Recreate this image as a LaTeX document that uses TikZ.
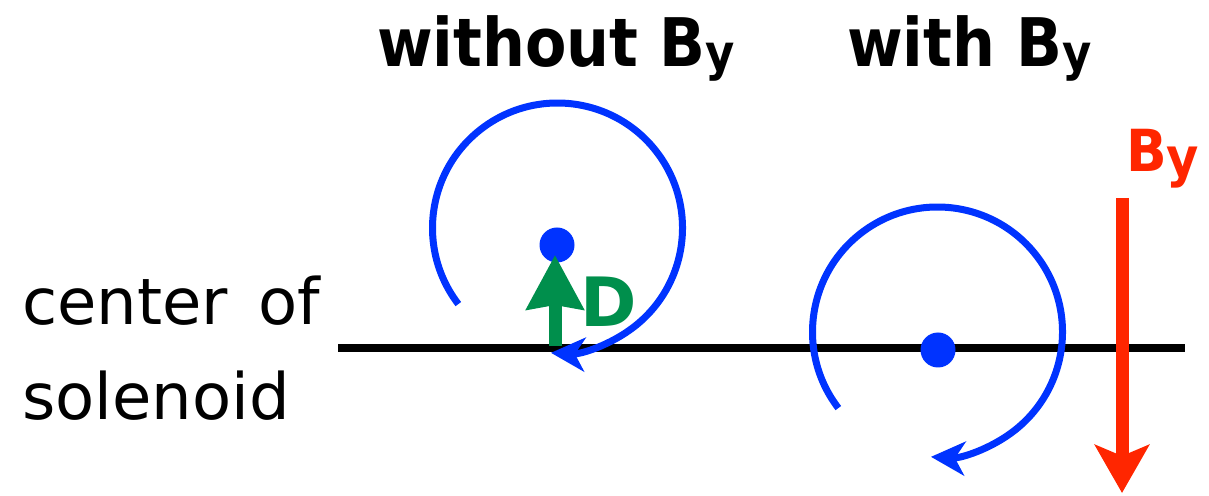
\documentclass[tikz,border=0pt]{standalone}
\usepackage{fontspec}
\setmainfont{DejaVu Sans}
\usetikzlibrary{arrows.meta}
\definecolor{orbitblue}{RGB}{0,51,255}
\definecolor{dgreen}{RGB}{0,143,76}
\definecolor{byred}{RGB}{255,38,0}
\tikzset{
  orbit/.style={draw=orbitblue, line width=7pt, -{Stealth[length=34pt,width=34pt,inset=10pt]}},
  gcdot/.style={circle, fill=orbitblue, inner sep=0pt, minimum size=35pt},
  axisline/.style={line width=8pt, black},
  darrow/.style={draw=dgreen, line width=13pt, -{Stealth[length=54pt,width=56pt,inset=4pt]}},
  barrow/.style={draw=byred, line width=13pt, -{Stealth[length=48pt,width=54pt,inset=11pt]}},
  txt/.style={inner sep=0pt, anchor=base west},
}
\begin{document}
\begin{tikzpicture}[x=1pt,y=1pt]
\useasboundingbox (0,0) rectangle (1209,495);
% axis
\coordinate (axL) at (338,147);
\coordinate (axR) at (1185,147);
\draw[axisline] (axL) -- (axR);
% titles
\node[txt] (t1) at (377,428) {\scalebox{0.9}[1]{\fontsize{67}{70}\selectfont\bfseries without B\raisebox{-4pt}{\fontsize{50}{50}\selectfont y}}};
\node[txt] (t2) at (847,428) {\scalebox{0.9}[1]{\fontsize{67}{70}\selectfont\bfseries with B\raisebox{-4pt}{\fontsize{50}{50}\selectfont y}}};
% left label
\node[txt] (l1) at (22,170) {\fontsize{64}{70}\selectfont center\hspace{10pt} of};
\node[txt] (l2) at (22,75) {\fontsize{64}{70}\selectfont solenoid};
% left orbit
\coordinate (c1) at (557.5,267);
\draw[orbit] (c1) ++(217.5:125) arc[start angle=217.5, end angle=-93, radius=125];
\node[gcdot] (g1) at (557,250) {};
% right orbit
\coordinate (c2) at (937.5,163);
\draw[orbit] (c2) ++(217.5:125) arc[start angle=217.5, end angle=-93, radius=125];
\node[gcdot] (g2) at (938,145) {};
% drift arrow D
\coordinate (dbase) at (555,149);
\coordinate (dtip) at (555,240);
\draw[darrow] (dbase) -- (dtip);
\node[txt, text=dgreen] (D) at (580,168) {\fontsize{68}{70}\selectfont\bfseries D};
% By arrow
\coordinate (btop) at (1122,297);
\coordinate (bbot) at (1122,2);
\draw[barrow] (btop) -- (bbot);
\node[txt, text=byred] (By) at (1126,323) {\scalebox{0.92}[1]{\fontsize{58}{60}\selectfont\bfseries B\raisebox{-5pt}{\fontsize{54}{54}\selectfont y}}};
\end{tikzpicture}
\end{document}
